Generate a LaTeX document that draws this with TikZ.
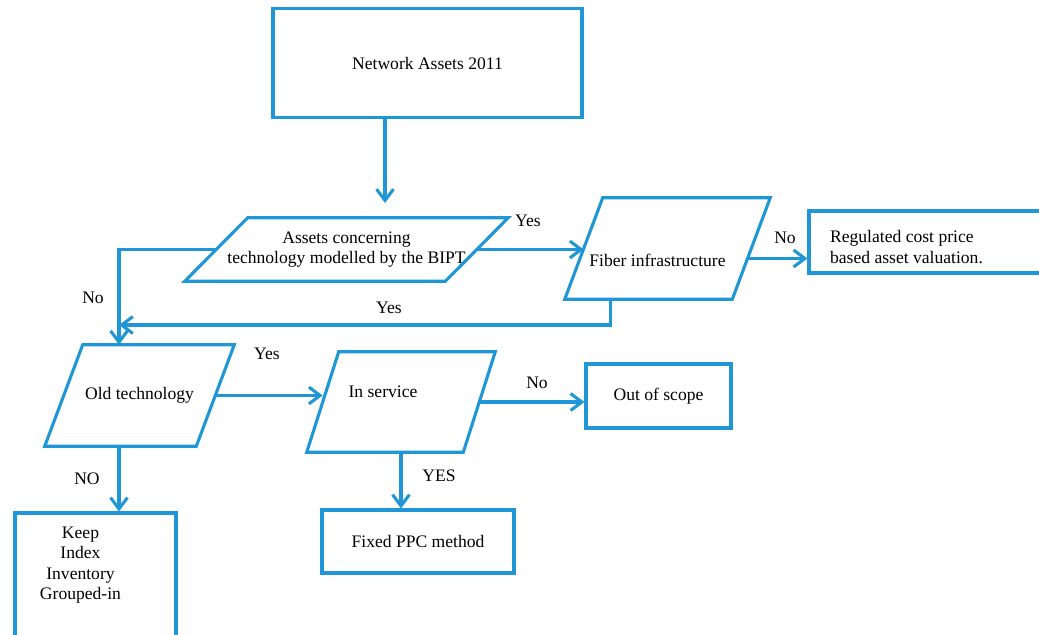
\documentclass[tikz,border=0pt]{standalone}
\usepackage{fontspec}
\setmainfont{Liberation Serif}
\usepackage{xcolor}
\usepackage{tikz}
\usetikzlibrary{arrows.meta,calc}

\definecolor{flowblue}{RGB}{31,150,214}
\newcommand{\pxl}{0.025cm}

\begin{document}
\begin{tikzpicture}[x=0.025cm, y=-0.025cm, font=\fontsize{12.5}{14.5}\selectfont]
    % Styles
    \tikzstyle{box} = [rectangle, draw=flowblue, line width=2.2pt, align=center, inner sep=0pt]
    \tikzstyle{para} = [rectangle, align=center, inner sep=0pt]
    \tikzstyle{outline} = [draw=flowblue, line width=2.2pt, line join=miter]
    \tikzstyle{arrow} = [draw=flowblue, line width=2.2pt, -{Straight Barb[length=8pt,width=12pt]}]
    \tikzstyle{tag} = [inner sep=0pt]

    \useasboundingbox (0,0) rectangle (1039,635);

    % Nodes
    \node[box, minimum width=309*\pxl, minimum height=109*\pxl] (assets) at (427.5,63) {Network Assets 2011};
    \node[para, minimum width=260*\pxl, minimum height=63*\pxl] (bipt) at (346.5,249.5)
        {Assets concerning\\technology modelled by the BIPT};
    \node[para, minimum width=167*\pxl, minimum height=101*\pxl,
        label={[tag, anchor=center, xshift=-10*\pxl, yshift=-12*\pxl]center:Fiber infrastructure}] (fiber) at (667.5,248.5) {};
    \node[box, minimum width=241*\pxl, minimum height=62*\pxl,
        label={[tag, anchor=center, align=left, xshift=-23*\pxl, yshift=-5*\pxl]center:Regulated cost price\\based asset valuation.}] (reg) at (929.5,242) {};
    \node[para, minimum width=151*\pxl, minimum height=101*\pxl] (old) at (139.5,395.5) {Old technology};
    \node[para, minimum width=156*\pxl, minimum height=100*\pxl,
        label={[tag, anchor=center, xshift=-18*\pxl, yshift=10*\pxl]center:In service}] (serv) at (401,402) {};
    \node[box, minimum width=145*\pxl, minimum height=64*\pxl] (out) at (658.5,396) {Out of scope};
    \node[box, minimum width=192*\pxl, minimum height=63*\pxl] (fixed) at (418,541.5) {Fixed PPC method};
    \node[box, minimum width=161*\pxl, minimum height=147*\pxl,
        label={[tag, anchor=north, align=center, xshift=-15*\pxl, yshift=-15*\pxl]north:Keep\\Index\\Inventory\\Grouped-in}] (keep) at (95.5,586.5) {};

    % Parallelogram outlines
    \draw[outline] ([xshift=-31.5*\pxl]bipt.south west) -- ([xshift=-31.5*\pxl]bipt.south east)
        -- ([xshift=31.5*\pxl]bipt.north east) -- ([xshift=31.5*\pxl]bipt.north west) -- cycle;
    \draw[outline] ([xshift=-19*\pxl]fiber.south west) -- ([xshift=-19*\pxl]fiber.south east)
        -- ([xshift=19*\pxl]fiber.north east) -- ([xshift=19*\pxl]fiber.north west) -- cycle;
    \draw[outline] ([xshift=-19*\pxl]old.south west) -- ([xshift=-19*\pxl]old.south east)
        -- ([xshift=19*\pxl]old.north east) -- ([xshift=19*\pxl]old.north west) -- cycle;
    \draw[outline] ([xshift=-16*\pxl]serv.south west) -- ([xshift=-16*\pxl]serv.south east)
        -- ([xshift=16*\pxl]serv.north east) -- ([xshift=16*\pxl]serv.north west) -- cycle;

    % Labels
    \node[tag] (yesa) at (528,221) {Yes};
    \node[tag] (noa) at (93,298) {No};
    \node[tag] (yesb) at (389,308) {Yes};
    \node[tag] (nob) at (785,238) {No};
    \node[tag] (yesc) at (267,354) {Yes};
    \node[tag] (noc) at (537,383) {No};
    \node[tag] (yesd) at (439,476) {YES};
    \node[tag] (nod) at (87,479) {NO};

    % Arrows
    \coordinate (drop) at (385,203);
    \coordinate (merge) at (119,325);
    \coordinate (fibout) at ($(fiber.east)+(-4,10)$);
    \coordinate (fibdown) at ($(fiber.south west)+(27,0)$);

    \draw[arrow] (assets.south -| drop) -- (drop);
    \draw[arrow] (bipt.east) -- (bipt.east -| fiber.west);
    \draw[arrow] (fibout) -- (fibout -| reg.west);
    \draw[arrow] (bipt.west) -| (merge |- old.north);
    \draw[arrow] (fibdown) |- (merge);
    \draw[arrow] (old.east) -- (old.east -| serv.west);
    \draw[arrow] (serv.east) -- (serv.east -| out.west);
    \draw[arrow] (serv.south) -- (serv.south |- fixed.north);
    \draw[arrow] (old.south -| merge) -- (merge |- keep.north);

\end{tikzpicture}
\end{document}
